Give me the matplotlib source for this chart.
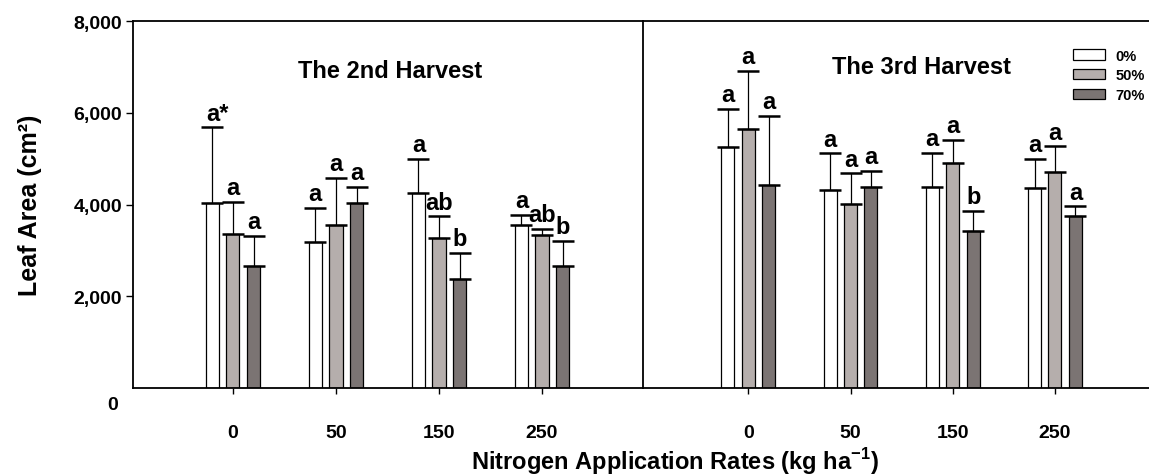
import matplotlib
matplotlib.use("Agg")
import matplotlib.pyplot as plt
import numpy as np

plt.rcParams['font.family'] = ['Liberation Sans', 'DejaVu Sans']
plt.rcParams['font.weight'] = 'bold'
plt.rcParams['mathtext.fontset'] = 'custom'
plt.rcParams['mathtext.rm'] = 'Liberation Sans:bold'
plt.rcParams['mathtext.bf'] = 'Liberation Sans:bold'

# ---- data ----
n_rates = ['0', '50', '150', '250']
shade_levels = ['0%', '50%', '70%']

h2_mean = {'0%':  [4030, 3180, 4250, 3550],
           '50%': [3350, 3550, 3270, 3335],
           '70%': [2660, 4025, 2370, 2660]}
h2_err = {'0%':  [1650, 750, 740, 220],
          '50%': [700, 1025, 470, 130],
          '70%': [650, 365, 575, 550]}
h2_lett = {'0%':  ['a*', 'a', 'a', 'a'],
           '50%': ['a', 'a', 'ab', 'ab'],
           '70%': ['a', 'a', 'b', 'b']}

h3_mean = {'0%':  [5260, 4310, 4375, 4350],
           '50%': [5640, 4005, 4905, 4700],
           '70%': [4425, 4375, 3415, 3755]}
h3_err = {'0%':  [830, 805, 750, 640],
          '50%': [1270, 675, 500, 565],
          '70%': [1510, 365, 450, 205]}
h3_lett = {'0%':  ['a', 'a', 'a', 'a'],
           '50%': ['a', 'a', 'a', 'a'],
           '70%': ['a', 'a', 'b', 'a']}

colors = {'0%': '#ffffff', '50%': '#b5aeac', '70%': '#7b7473'}
offsets = {'0%': -0.2, '50%': 0.0, '70%': 0.2}

W, H = 1149, 477
fig = plt.figure(figsize=(W / 100, H / 100), dpi=100)

top_px, bot_px = 22, 389
ax1 = fig.add_axes([133 / W, 1 - bot_px / H, (643 - 133) / W, (bot_px - top_px) / H])
ax2 = fig.add_axes([643 / W, 1 - bot_px / H, (W - 643) / W, (bot_px - top_px) / H])

x = np.arange(len(n_rates))
bw = 0.127


def draw(ax, means, errs, letts):
    for s in shade_levels:
        xs = x + offsets[s]
        ax.bar(xs, means[s], width=bw, color=colors[s], edgecolor='black',
               linewidth=0.9, label=s, zorder=2)
        ax.errorbar(xs, means[s], yerr=[np.zeros(len(x)), errs[s]], fmt='none',
                    ecolor='black', elinewidth=0.9, capsize=8, capthick=1.8, zorder=3)
        for xi, m, e, l in zip(xs, means[s], errs[s], letts[s]):
            dx = 3.5 if l.endswith('*') else 0
            ax.annotate(l, (xi, m + e), xytext=(dx, 2), textcoords='offset points',
                        ha='center', va='bottom', fontsize=17, fontweight='bold')
    ax.set_ylim(0, 8000)
    ax.set_xticks(x)
    ax.set_xticklabels(n_rates, fontsize=14, fontweight='bold')
    ax.tick_params(axis='x', length=4, width=1, pad=22)
    for sp in ['top', 'left', 'bottom']:
        ax.spines[sp].set_linewidth(1.3)
    ax.spines['right'].set_visible(False)


draw(ax1, h2_mean, h2_err, h2_lett)
draw(ax2, h3_mean, h3_err, h3_lett)

ax1.set_xlim(-0.97, 3.98)
ax2.set_xlim(-1.03, 3.92)

ax1.set_yticks([2000, 4000, 6000, 8000])
ax1.set_yticklabels(['2,000', '4,000', '6,000', '8,000'], fontsize=14, fontweight='bold')
ax1.tick_params(axis='y', length=5, width=1, pad=3)
ax1.text(-0.03, -0.046, '0', transform=ax1.transAxes, ha='right', va='center',
         fontsize=14, fontweight='bold')
ax2.set_yticks([])

ax1.text(0.504, 0.864, 'The 2nd Harvest', transform=ax1.transAxes, ha='center',
         va='center', fontsize=17, fontweight='bold')
ax2.text(0.551, 0.875, 'The 3rd Harvest', transform=ax2.transAxes, ha='center',
         va='center', fontsize=17, fontweight='bold')

leg = ax2.legend(loc='upper left', bbox_to_anchor=(0.85, 0.925), frameon=False,
                 fontsize=10.5, handlelength=2.2, handleheight=0.7, labelspacing=0.4,
                 handletextpad=0.7, borderpad=0, borderaxespad=0)
for t in leg.get_texts():
    t.set_fontweight('bold')

fig.text(675 / W, 1 - 462 / H, r'Nitrogen Application Rates (kg ha$^{-1}$)',
         ha='center', va='center', fontsize=17, fontweight='bold')
fig.text(30 / W, 1 - 205 / H, 'Leaf Area (cm²)', rotation=90, ha='center',
         va='center', fontsize=18, fontweight='bold')

fig.savefig('out.png', dpi=100)
